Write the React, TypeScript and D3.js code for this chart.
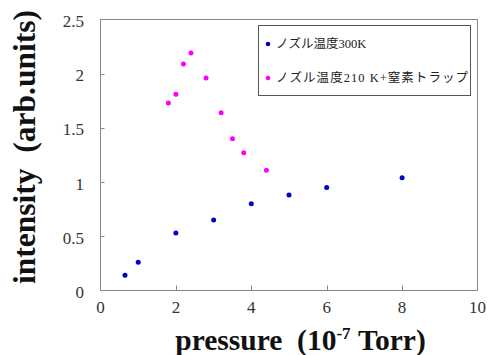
import React from "react";
import * as d3 from "d3";

const seriesNames = ["ノズル温度300K", "ノズル温度210 K+窒素トラップ"];
const seriesColors = ["#0000cc", "#ff00ff"];
const p300 = [0.65, 1.0, 2.0, 3.0, 4.0, 5.0, 6.0, 8.0];
const i300 = [0.14, 0.26, 0.53, 0.65, 0.8, 0.88, 0.95, 1.04];
const p210 = [1.8, 2.0, 2.2, 2.4, 2.8, 3.2, 3.5, 3.8, 4.4];
const i210 = [1.73, 1.81, 2.09, 2.19, 1.96, 1.64, 1.4, 1.27, 1.11];
const xTicks = [0, 2, 4, 6, 8, 10];
const yTicks = [0, 0.5, 1, 1.5, 2, 2.5];

const W = 489, H = 355;
const L = 100.5, R = 477.5, T = 19.5, B = 290.5;

export default function App() {
  const x = d3.scaleLinear().domain([0, 10]).range([L, R]);
  const y = d3.scaleLinear().domain([0, 2.5]).range([B, T]);
  const series = [
    { name: seriesNames[0], color: seriesColors[0], xs: p300, ys: i300 },
    { name: seriesNames[1], color: seriesColors[1], xs: p210, ys: i210 },
  ];
  const font = "Liberation Serif, Noto Sans CJK JP, serif";
  return (
    <svg width={W} height={H} style={{ position: "absolute", left: 0, top: 0, fontFamily: font }}>
      <rect x={0} y={0} width={W} height={H} fill="#fff" />
      <rect x={L} y={T} width={R - L} height={B - T} fill="none" stroke="#888" strokeWidth={1} />
      {yTicks.map((t) => (
        <g key={"y" + t}>
          {t > 0 && t < 2.5 && (
            <line x1={L} x2={L + 4} y1={Math.round(y(t)) + 0.5} y2={Math.round(y(t)) + 0.5} stroke="#888" />
          )}
          <text x={84} y={y(t) + 1.5} dy="0.35em" textAnchor="end" style={{ fontFamily: font }} fontSize={17} fill="#333">
            {String(t)}
          </text>
        </g>
      ))}
      {xTicks.map((t) => (
        <g key={"x" + t}>
          {t > 0 && t < 10 && (
            <line x1={Math.round(x(t)) + 0.5} x2={Math.round(x(t)) + 0.5} y1={B} y2={B - 5} stroke="#888" />
          )}
          <text x={x(t)} y={313} textAnchor="middle" style={{ fontFamily: font }} fontSize={17} fill="#333">
            {String(t)}
          </text>
        </g>
      ))}
      {series.map((s) =>
        s.xs.map((v, i) => (
          <circle key={s.name + i} cx={x(v)} cy={y(s.ys[i])} r={2.5} fill={s.color} />
        ))
      )}
      <rect x={258.5} y={25.5} width={212} height={70} fill="#fff" stroke="#555" strokeWidth={1} />
      {series.map((s, i) => (
        <g key={"lg" + i}>
          <circle cx={268} cy={44 + i * 34} r={2.3} fill={s.color} />
          <text
            x={276}
            y={44 + i * 34}
            dy="0.35em"
            style={{ fontFamily: font }}
            fontSize={12.5}
            fill="#222"
            textLength={i === 1 ? 192 : undefined}
            lengthAdjust="spacing"
          >
            {s.name}
          </text>
        </g>
      ))}
      <text x={300.5} y={350} textAnchor="middle" style={{ fontFamily: font }} fontSize={29.5} fontWeight="bold" fill="#111">
        pressure{"\u00a0\u00a0"}(10<tspan fontSize={17} dy={-11}>-7</tspan>
        <tspan dy={11}>{"\u00a0"}Torr)</tspan>
      </text>
      <text
        transform={`translate(35,147) rotate(-90)`}
        textAnchor="middle"
        style={{ fontFamily: font }}
        fontSize={31.5}
        fontWeight="bold"
        fill="#111"
      >
        intensity{"\u00a0\u00a0"}(arb.units)
      </text>
    </svg>
  );
}
